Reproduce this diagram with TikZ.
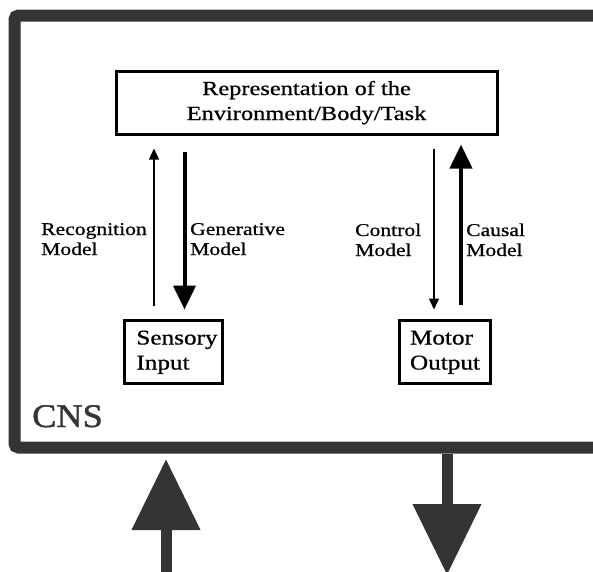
\documentclass[tikz,border=0pt]{standalone}
\usepackage{fontspec}
\setmainfont{Liberation Serif}[FakeBold=0.7]
\newfontfamily\cnsfont{Liberation Serif}[FakeBold=1.2]
\usepackage{graphicx}
\usetikzlibrary{arrows.meta,calc}
% horizontally widened text, as set by the original typesetter
\newcommand\wide[2][1.2]{\scalebox{#1}[1]{#2}}
\definecolor{stipple}{RGB}{52,52,52}

\begin{document}
\begin{tikzpicture}[x=1pt,y=-1pt,
  box/.style={draw,line width=3pt,inner sep=0pt},
  modellabel/.style={anchor=base west,inner sep=0pt,font=\fontsize{18}{20}\selectfont},
  thinarrow/.style={line width=1.3pt,-{Triangle[width=10pt,length=11pt]}},
  thickarrow/.style={line width=4pt,-{Triangle[width=22pt,length=24pt]}},
  bigarrow/.style={draw=stipple,fill=stipple,line width=11pt,-{Triangle[width=66pt,length=71pt]}},
]
\useasboundingbox (0,0) rectangle (593,571);

% central nervous system frame (runs off the right edge)
\node[draw=stipple,line width=12pt,rounded corners=4pt,inner sep=0pt,
      minimum width=600pt,minimum height=432pt] (cns) at (314.5,231.5) {};
\node[anchor=base west,inner sep=0pt,text=stipple,font=\cnsfont\fontsize{33}{33}\selectfont]
  (cnslabel) at (32,427) {\wide[1.1]{CNS}};

% representation and the two interfaces
\node[box,minimum width=381pt,minimum height=63pt,font=\fontsize{20}{25}\selectfont]
  (rep) at (306.5,102.5)
  {\wide[1.22]{\begin{tabular}{@{}c@{}}Representation of the\\Environment/Body/Task\end{tabular}}};
\node[box,minimum width=98pt,minimum height=63pt,font=\fontsize{21}{25}\selectfont]
  (sens) at (173.5,352)
  {\hspace*{7pt}\wide{\begin{tabular}{@{}l@{}}Sensory\\Input\end{tabular}}};
\node[box,minimum width=91pt,minimum height=63pt,font=\fontsize{21}{25}\selectfont]
  (mot) at (445,352)
  {\wide{\begin{tabular}{@{}l@{}}Motor\\Output\end{tabular}}};

% columns of the model arrows
\coordinate (xrec) at (154,0);
\coordinate (xgen) at (184.5,0);
\coordinate (xcon) at (434,0);
\coordinate (xcau) at (461,0);

\draw[thinarrow,shorten <=13.5pt,shorten >=13pt] (sens.north -| xrec) -- (rep.south -| xrec);
\draw[thickarrow,shorten <=16pt,shorten >=9.5pt] (rep.south -| xgen) -- (sens.north -| xgen);
\draw[thinarrow,shorten <=13pt,shorten >=9.5pt] (rep.south -| xcon) -- (mot.north -| xcon);
\draw[thickarrow,shorten <=14pt,shorten >=9pt] (mot.north -| xcau) -- (rep.south -| xcau);

\node[modellabel] (lrec) at (41,235) {\wide{\begin{tabular}[t]{@{}l@{}}Recognition\\Model\end{tabular}}};
\node[modellabel] (lgen) at (190,235) {\wide{\begin{tabular}[t]{@{}l@{}}Generative\\Model\end{tabular}}};
\node[modellabel] (lcon) at (355,236) {\wide{\begin{tabular}[t]{@{}l@{}}Control\\Model\end{tabular}}};
\node[modellabel] (lcau) at (466,236) {\wide{\begin{tabular}[t]{@{}l@{}}Causal\\Model\end{tabular}}};

% input from and output to the world
\coordinate (inflow) at (166,580);
\coordinate (outflow) at (447,575);
\draw[bigarrow,shorten >=5.5pt] (inflow) -- (cns.south -| inflow);
\draw[bigarrow] (cns.south -| outflow) -- (outflow);
\end{tikzpicture}
\end{document}
